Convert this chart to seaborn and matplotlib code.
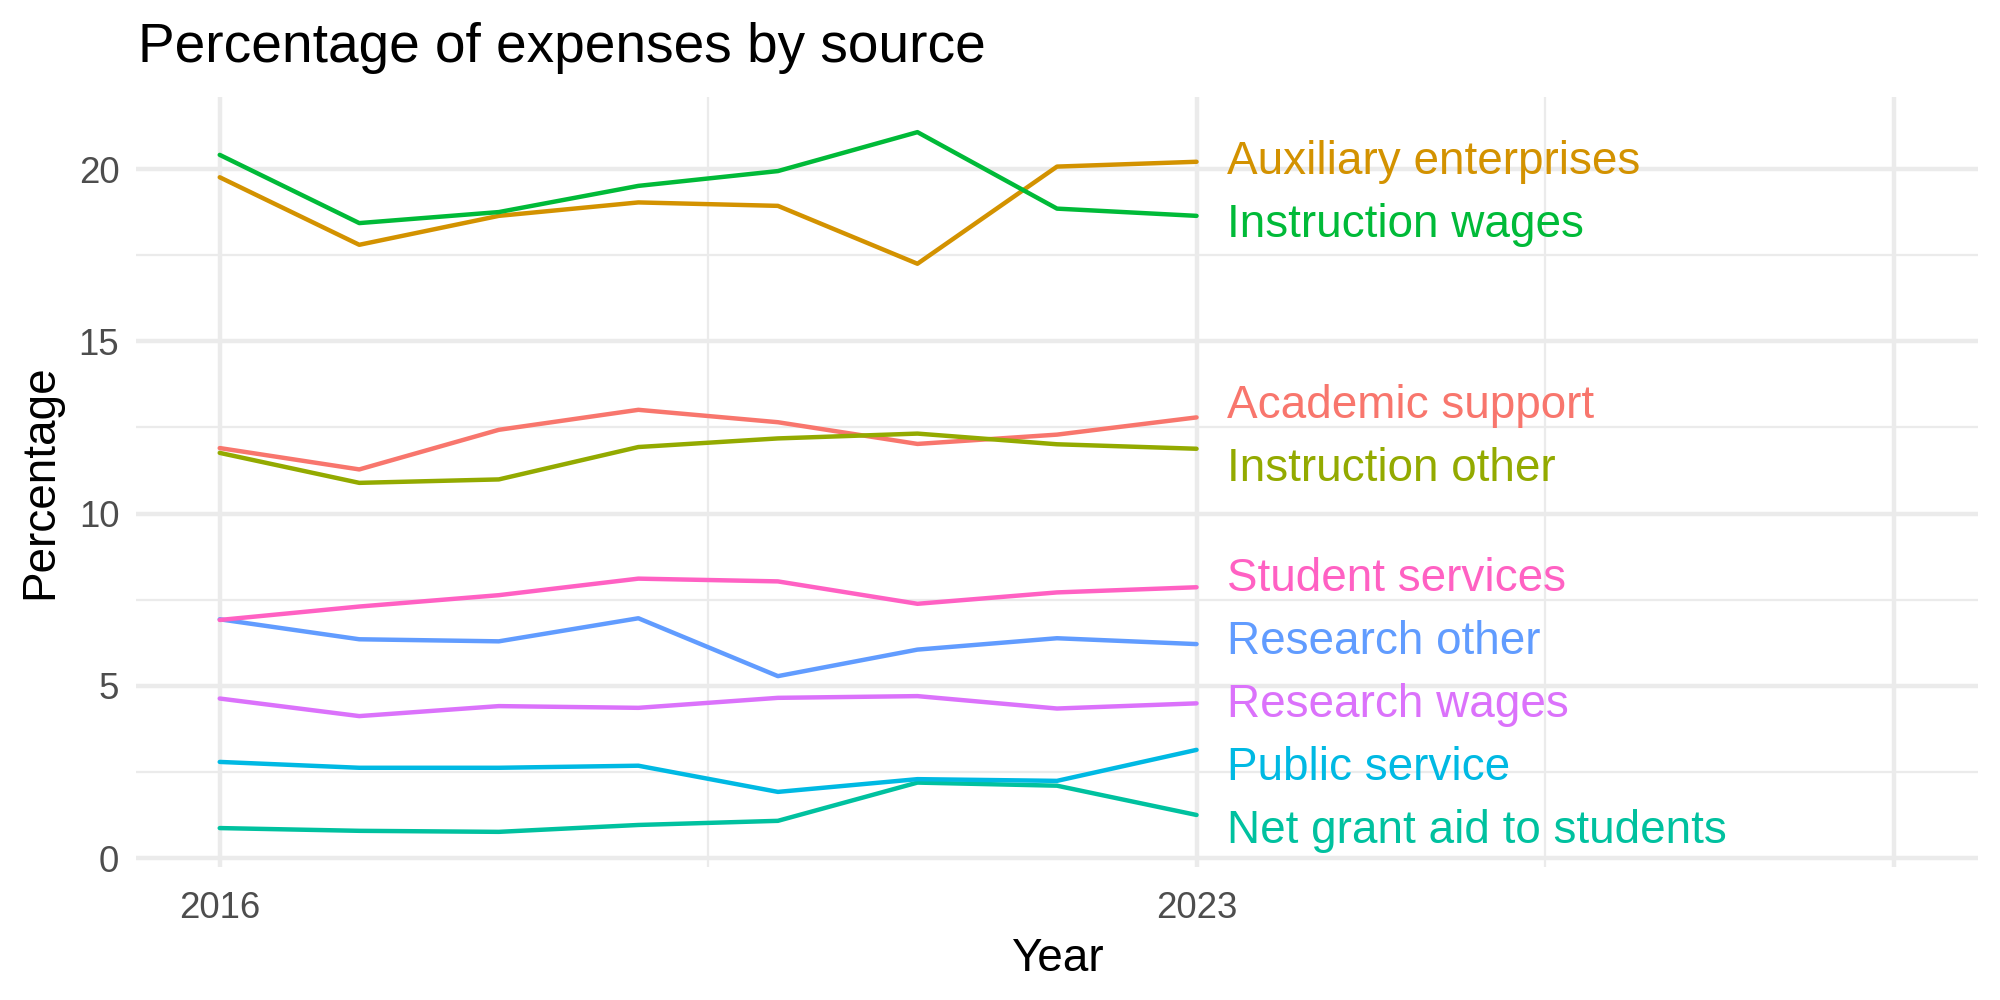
import numpy as np
import pandas as pd
import matplotlib
matplotlib.use("Agg")
import matplotlib.pyplot as plt
from matplotlib.ticker import FixedLocator
import seaborn as sns

years = [2016, 2017, 2018, 2019, 2020, 2021, 2022, 2023]
academic_support = [11.90, 11.28, 12.43, 13.01, 12.65, 12.02, 12.29, 12.79]
auxiliary_enterprises = [19.76, 17.80, 18.64, 19.03, 18.93, 17.25, 20.07, 20.21]
instruction_other = [11.76, 10.89, 10.99, 11.93, 12.18, 12.32, 12.01, 11.88]
instruction_wages = [20.41, 18.43, 18.75, 19.51, 19.94, 21.07, 18.85, 18.64]
net_grant_aid = [0.87, 0.79, 0.76, 0.96, 1.08, 2.19, 2.10, 1.25]
public_service = [2.79, 2.62, 2.62, 2.68, 1.92, 2.29, 2.24, 3.14]
research_other = [6.93, 6.35, 6.29, 6.96, 5.28, 6.05, 6.38, 6.21]
research_wages = [4.63, 4.12, 4.41, 4.36, 4.65, 4.70, 4.34, 4.49]
student_services = [6.91, 7.30, 7.63, 8.11, 8.03, 7.38, 7.71, 7.86]

sources = ["Academic support", "Auxiliary enterprises", "Instruction other",
           "Instruction wages", "Net grant aid to students", "Public service",
           "Research other", "Research wages", "Student services"]
series = [academic_support, auxiliary_enterprises, instruction_other,
          instruction_wages, net_grant_aid, public_service,
          research_other, research_wages, student_services]
colors = ["#F8766D", "#D39200", "#93AA00", "#00BA38", "#00C19F",
          "#00B9E3", "#619CFF", "#DB72FB", "#FF61C3"]

df = pd.DataFrame({
    "Year": np.tile(years, len(sources)),
    "Percentage": np.concatenate(series),
    "Source": np.repeat(sources, len(years)),
})

sns.set_style("white")
plt.rcParams["font.family"] = ["Liberation Sans", "DejaVu Sans"]
plt.rcParams["text.color"] = "black"
plt.rcParams["axes.labelcolor"] = "black"

fig = plt.figure(figsize=(20, 10), dpi=100)
ax = fig.add_axes([0.068, 0.133, 0.921, 0.770])

sns.lineplot(data=df, x="Year", y="Percentage", hue="Source", palette=colors,
             hue_order=sources, linewidth=3.2, legend=False, ax=ax, zorder=3)

# simple label repel: merge overlapping labels into evenly spaced groups
gap = 1.83
last = df[df["Year"] == years[-1]].set_index("Source")["Percentage"]
order = last.sort_values().index.tolist()
groups = [[s] for s in order]
changed = True
while changed:
    changed = False
    pos = []
    for g in groups:
        m = np.mean([last[s] for s in g])
        n = len(g)
        pos.append([m + (i - (n - 1) / 2) * gap for i in range(n)])
    for i in range(len(groups) - 1):
        if pos[i + 1][0] - pos[i][-1] < gap - 1e-9:
            groups[i] = groups[i] + groups[i + 1]
            del groups[i + 1]
            changed = True
            break
for g, p in zip(groups, pos):
    for s, y in zip(g, p):
        # baseline placed half a cap height below the label centre
        ax.text(years[-1] + 0.22, y - 0.49, s, color=colors[sources.index(s)],
                fontsize=33, ha="left", va="baseline", zorder=4)

ax.set_xlim(2015.4, 2028.6)
ax.set_ylim(-0.26, 22.09)
ax.xaxis.set_major_locator(FixedLocator([2016, 2023, 2028]))
ax.set_xticklabels(["2016", "2023", ""])
ax.xaxis.set_minor_locator(FixedLocator([2019.5, 2025.5]))
ax.set_yticks([0, 5, 10, 15, 20])
ax.yaxis.set_minor_locator(FixedLocator([2.5, 7.5, 12.5, 17.5]))
ax.grid(which="major", color="#EBEBEB", linewidth=3.2)
ax.grid(which="minor", color="#EBEBEB", linewidth=1.6)
ax.set_axisbelow(True)
for sp in ax.spines.values():
    sp.set_visible(False)
ax.tick_params(which="both", length=0, labelsize=26.4, labelcolor="#4D4D4D")
ax.tick_params(axis="x", pad=17)
ax.tick_params(axis="y", pad=12)
ax.set_xlabel("Year", fontsize=33, labelpad=8)
ax.set_ylabel("Percentage", fontsize=33, labelpad=12)
fig.text(0.069, 0.952, "Percentage of expenses by source", fontsize=39.6,
         ha="left", va="center")

fig.savefig("out.png", dpi=100, facecolor="white")
